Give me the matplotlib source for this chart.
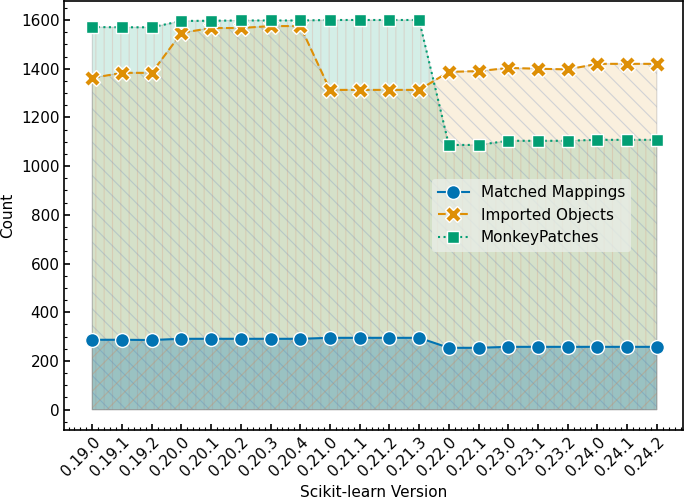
import numpy as np
import matplotlib
matplotlib.use("Agg")
import matplotlib.pyplot as plt
from matplotlib.ticker import MultipleLocator, AutoMinorLocator

versions = ["0.19.0", "0.19.1", "0.19.2", "0.20.0", "0.20.1", "0.20.2", "0.20.3",
            "0.20.4", "0.21.0", "0.21.1", "0.21.2", "0.21.3", "0.22.0", "0.22.1",
            "0.23.0", "0.23.1", "0.23.2", "0.24.0", "0.24.1", "0.24.2"]
matched = [287, 287, 286, 291, 291, 291, 291, 291, 295, 295, 295, 295,
           254, 254, 258, 258, 258, 258, 258, 258]
imported = [1362, 1383, 1383, 1547, 1567, 1567, 1575, 1575, 1313, 1313, 1313, 1313,
            1387, 1390, 1403, 1400, 1397, 1420, 1420, 1420]
monkey = [1571, 1570, 1570, 1596, 1597, 1598, 1598, 1598, 1600, 1600, 1600, 1600,
          1087, 1087, 1104, 1104, 1104, 1108, 1108, 1108]

plt.rcParams["hatch.linewidth"] = 0.8
blue, orange, green = "#0173b2", "#de8f05", "#029e73"

fig = plt.figure(figsize=(6.85, 4.99), dpi=100)
ax = fig.add_axes([0.094, 0.139, 0.903, 0.859])
x = np.arange(len(versions))

ax.fill_between(x, 0, monkey, facecolor=(0.01, 0.62, 0.45, 0.17),
                edgecolor=(0.87, 0.56, 0.5, 0.25), hatch="||", linewidth=0)
ax.fill_between(x, 0, imported, facecolor=(0.87, 0.56, 0.02, 0.13),
                edgecolor=(0.45, 0.55, 0.75, 0.3), hatch="\\\\", linewidth=0)
ax.fill_between(x, 0, matched, facecolor=(0.01, 0.45, 0.70, 0.28),
                edgecolor=(0.85, 0.5, 0.3, 0.3), hatch="//", linewidth=0)
for vals in (monkey, imported, matched):
    ax.fill_between(x, 0, vals, facecolor="none", edgecolor=(0.5, 0.5, 0.5, 0.3),
                    linewidth=0.8)

ax.plot(x, matched, "-", color=blue, marker="o", markersize=10, markeredgecolor="white",
        markeredgewidth=1, linewidth=1.5, label="Matched Mappings")
ax.plot(x, imported, "--", color=orange, marker="X", markersize=11, markeredgecolor="white",
        markeredgewidth=1, linewidth=1.5, label="Imported Objects")
ax.plot(x, monkey, ":", color=green, marker="s", markersize=8, markeredgecolor="white",
        markeredgewidth=1, linewidth=1.5, label="MonkeyPatches")

ax.set_xlim(-0.94, 19.88)
ax.set_ylim(-82, 1678)
ax.set_xticks(x)
ax.set_xticklabels(versions, rotation=45, ha="right", rotation_mode="anchor", fontsize=11)
ax.xaxis.set_minor_locator(AutoMinorLocator(5))
ax.yaxis.set_major_locator(MultipleLocator(200))
ax.yaxis.set_minor_locator(MultipleLocator(50))
ax.tick_params(which="both", direction="in", top=False, right=False, labelsize=11)
ax.tick_params(which="major", length=4, width=1.2)
ax.tick_params(which="minor", length=2, width=0.8)
for s in ax.spines.values():
    s.set_linewidth(1.2)
ax.set_xlabel("Scikit-learn Version", fontsize=11)
ax.set_ylabel("Count", fontsize=11)
ax.legend(loc="center right", bbox_to_anchor=(0.929, 0.5), fontsize=11,
          frameon=True, facecolor="#e8ede6", edgecolor="none", framealpha=0.8)

fig.savefig("out.png", dpi=100)
